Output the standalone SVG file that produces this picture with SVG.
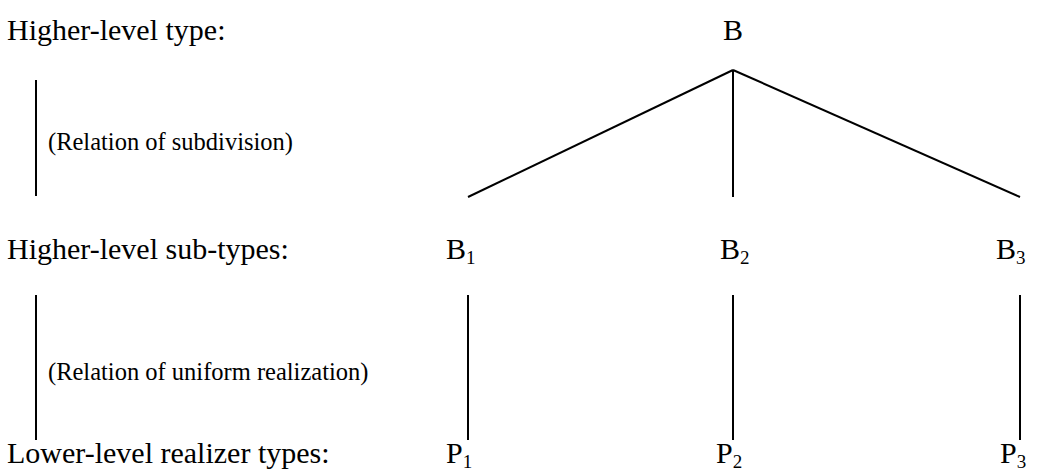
<svg xmlns="http://www.w3.org/2000/svg" width="1045" height="470" viewBox="0 0 1045 470">
<style>
text{font-family:"Liberation Serif","Times New Roman",serif;fill:#000}
.big{font-size:30px}
.small{font-size:24.5px}
.sub{font-size:19px}
line{stroke:#000;stroke-width:2}
</style>
<rect width="1045" height="470" fill="#fff"/>
<g id="labels">
<text class="big" x="7" y="40">Higher-level type:</text>
<text class="big" x="7" y="259">Higher-level sub-types:</text>
<text class="big" x="7" y="463">Lower-level realizer types:</text>
<text class="small" x="48" y="150">(Relation of subdivision)</text>
<text class="small" x="48" y="380">(Relation of uniform realization)</text>
</g>
<g id="node-B"><text class="big" x="733" y="40" text-anchor="middle">B</text></g>
<g id="node-B1"><text class="big" x="446" y="259">B<tspan class="sub" dy="5">1</tspan></text></g>
<g id="node-B2"><text class="big" x="720" y="259">B<tspan class="sub" dy="5">2</tspan></text></g>
<g id="node-B3"><text class="big" x="996" y="259">B<tspan class="sub" dy="5">3</tspan></text></g>
<g id="node-P1"><text class="big" x="446" y="463">P<tspan class="sub" dy="5">1</tspan></text></g>
<g id="node-P2"><text class="big" x="716" y="463">P<tspan class="sub" dy="5">2</tspan></text></g>
<g id="node-P3"><text class="big" x="1000" y="463">P<tspan class="sub" dy="5">3</tspan></text></g>
<g id="connectors">
<line x1="36" y1="80" x2="36" y2="196"/>
<line x1="36" y1="295" x2="36" y2="440"/>
<line x1="733" y1="70" x2="468" y2="197"/>
<line x1="733" y1="70" x2="733" y2="197"/>
<line x1="733" y1="70" x2="1020" y2="197"/>
<line x1="468" y1="295" x2="468" y2="440"/>
<line x1="733" y1="295" x2="733" y2="440"/>
<line x1="1020" y1="295" x2="1020" y2="440"/>
</g>
</svg>
